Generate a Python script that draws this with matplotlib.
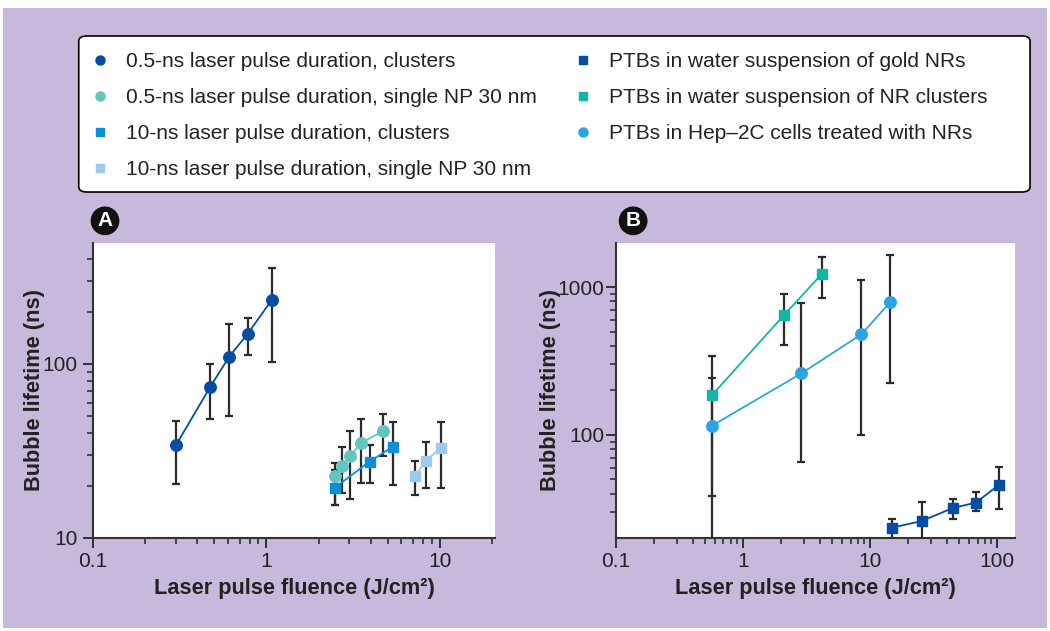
import matplotlib.pyplot as plt
from matplotlib.lines import Line2D
from matplotlib.patches import FancyBboxPatch
from matplotlib.ticker import NullFormatter, FixedLocator
import numpy as np

plt.rcParams['font.family'] = ['Liberation Sans', 'DejaVu Sans']

# panel A - bubble lifetime vs fluence, gold NP
a_cl05_x = [0.30, 0.475, 0.61, 0.78, 1.07]
a_cl05_y = [34, 74, 110, 149, 232]
a_cl05_lo = [20.5, 48.5, 50, 112, 103]
a_cl05_hi = [47, 100, 170, 184, 355]

a_np05_x = [2.5, 2.74, 3.05, 3.5, 4.7]
a_np05_y = [22.6, 25.9, 29.6, 35, 41.2]
a_np05_lo = [15.5, 18.1, 16.7, 20.6, 29.7]
a_np05_hi = [27, 33.5, 41.2, 48.5, 51.6]

a_cl10_x = [2.49, 3.94, 5.37]
a_cl10_y = [19.5, 27.5, 33.5]
a_cl10_lo = [15.5, 20.8, 20.2]
a_cl10_hi = [24.6, 34.3, 46.2]

a_np10_x = [7.2, 8.3, 10.1]
a_np10_y = [22.7, 27.8, 32.8]
a_np10_lo = [17.6, 19.3, 19.3]
a_np10_hi = [27.7, 35.5, 46.2]

# panel B - PTBs with nanorods
b_nr_x = [14.9, 25.5, 44.5, 68, 103]
b_nr_y = [23.6, 26.2, 32, 34.9, 45.9]
b_nr_lo = [19, 19, 27, 30.5, 31.4]
b_nr_hi = [27, 35.1, 37, 41.4, 60.8]

b_nrcl_x = [0.57, 2.09, 4.18]
b_nrcl_y = [186, 644, 1230]
b_nrcl_lo = [38.7, 407, 838]
b_nrcl_hi = [340, 893, 1602]

b_cell_x = [0.57, 2.88, 8.53, 14.4]
b_cell_y = [115.6, 261, 479, 792]
b_cell_lo = [10, 66, 100, 226]
b_cell_hi = [244, 784, 1110, 1637]

labels = ['0.5-ns laser pulse duration, clusters',
          '0.5-ns laser pulse duration, single NP 30 nm',
          '10-ns laser pulse duration, clusters',
          '10-ns laser pulse duration, single NP 30 nm',
          'PTBs in water suspension of gold NRs',
          'PTBs in water suspension of NR clusters',
          'PTBs in Hep\u20132C cells treated with NRs']

c_dark = '#034ea2'
c_teal_c = '#62c6bd'
c_blue = '#0b8fd8'
c_light = '#9ccbee'
c_teal_s = '#14b5a5'
c_cell = '#2ba6e1'
c_err = '#2b2b2b'
bg = '#c7b9db'

fig = plt.figure(figsize=(10.5, 6.31), dpi=100)
fig.patch.set_facecolor('white')
fig.patches.append(plt.Rectangle((0.003, 0.005), 0.994, 0.982, transform=fig.transFigure,
                                 facecolor=bg, edgecolor='none', zorder=-10))

axA = fig.add_axes([0.0886, 0.1474, 0.3828, 0.4675])
axB = fig.add_axes([0.5867, 0.1474, 0.38, 0.4675])


def series(ax, x, y, lo, hi, color, marker, ms):
    x = np.array(x)
    y = np.array(y)
    err = [y - np.array(lo), np.array(hi) - y]
    ax.errorbar(x, y, yerr=err, fmt='none', ecolor=c_err, elinewidth=1.6,
                capsize=3, capthick=1.6, zorder=2)
    ax.plot(x, y, color=color, lw=1.3, marker=marker, ms=ms, mec=color,
            mfc=color, zorder=3)


series(axA, a_cl05_x, a_cl05_y, a_cl05_lo, a_cl05_hi, c_dark, 'o', 8.3)
series(axA, a_np05_x, a_np05_y, a_np05_lo, a_np05_hi, c_teal_c, 'o', 8.3)
series(axA, a_cl10_x, a_cl10_y, a_cl10_lo, a_cl10_hi, c_blue, 's', 7)
series(axA, a_np10_x, a_np10_y, a_np10_lo, a_np10_hi, c_light, 's', 7)

series(axB, b_nr_x, b_nr_y, b_nr_lo, b_nr_hi, c_dark, 's', 7)
series(axB, b_nrcl_x, b_nrcl_y, b_nrcl_lo, b_nrcl_hi, c_teal_s, 's', 7)
series(axB, b_cell_x, b_cell_y, b_cell_lo, b_cell_hi, c_cell, 'o', 8.3)

for ax in (axA, axB):
    ax.set_xscale('log')
    ax.set_yscale('log')
    ax.set_facecolor('white')
    for s in ('top', 'right'):
        ax.spines[s].set_visible(False)
    for s in ('left', 'bottom'):
        ax.spines[s].set_color('#333333')
        ax.spines[s].set_linewidth(1.5)
    ax.tick_params(which='major', length=7, width=1.4, color='#333333',
                   labelsize=15, labelcolor='#222222', pad=3)
    ax.tick_params(which='minor', length=4, width=1.2, color='#333333')
    ax.xaxis.set_minor_formatter(NullFormatter())
    ax.yaxis.set_minor_formatter(NullFormatter())
    ax.set_xlabel('Laser pulse fluence (J/cm\u00b2)', fontsize=15.7, fontweight='bold',
                  labelpad=5, color='#222222')
    ax.set_ylabel('Bubble lifetime (ns)', fontsize=15.7, fontweight='bold',
                  color='#222222')

axA.tick_params(axis='y', which='major', pad=4)
axB.tick_params(axis='y', which='major', pad=1.5)
axA.yaxis.set_label_coords(-0.12, 0.5)
axB.yaxis.set_label_coords(-0.137, 0.5)

axA.set_xlim(0.1, 20.8)
axA.set_ylim(10, 495)
axA.xaxis.set_major_locator(FixedLocator([0.1, 1, 10]))
axA.set_xticklabels(['0.1', '1', '10'])
axA.yaxis.set_major_locator(FixedLocator([10, 100]))
axA.set_yticklabels(['10', '100'])

axB.set_xlim(0.1, 138)
axB.set_ylim(20.1, 1985)
axB.xaxis.set_major_locator(FixedLocator([0.1, 1, 10, 100]))
axB.set_xticklabels(['0.1', '1', '10', '100'])
axB.yaxis.set_major_locator(FixedLocator([100, 1000]))
axB.set_yticklabels(['100', '1000'])

# panel letters
for x0, txt in ((0.1, 'A'), (0.603, 'B')):
    fig.text(x0, 0.65, txt, ha='center', va='center', color='white', fontsize=15,
             fontweight='bold',
             bbox=dict(boxstyle='circle,pad=0.2', fc='#111111', ec='#111111'))

# legend box drawn separately, entries placed inside it
fig.patches.append(FancyBboxPatch((0.075, 0.6957), 0.906, 0.2473,
                                  boxstyle='round,pad=0,rounding_size=0.008',
                                  transform=fig.transFigure, facecolor='white',
                                  edgecolor='black', linewidth=1.2, zorder=1))

handles = [
    Line2D([], [], ls='none', marker='o', ms=6.5, color=c_dark),
    Line2D([], [], ls='none', marker='o', ms=6.5, color=c_teal_c),
    Line2D([], [], ls='none', marker='s', ms=5.5, color=c_blue),
    Line2D([], [], ls='none', marker='s', ms=5.5, color=c_light),
    Line2D([], [], ls='none', marker='s', ms=5.5, color=c_dark),
    Line2D([], [], ls='none', marker='s', ms=5.5, color=c_teal_s),
    Line2D([], [], ls='none', marker='o', ms=6.5, color=c_cell),
]
leg = fig.legend(handles, labels, ncol=2, loc='upper left',
                 bbox_to_anchor=(0.0872, 0.9175),
                 fontsize=15, frameon=False, handlelength=0.8, handletextpad=0.85,
                 labelspacing=0.82, borderpad=0, columnspacing=1.8,
                 borderaxespad=0)
leg.set_zorder(2)
for t in leg.get_texts():
    t.set_color('#222222')

fig.savefig('out.png', dpi=100, facecolor=fig.get_facecolor())
